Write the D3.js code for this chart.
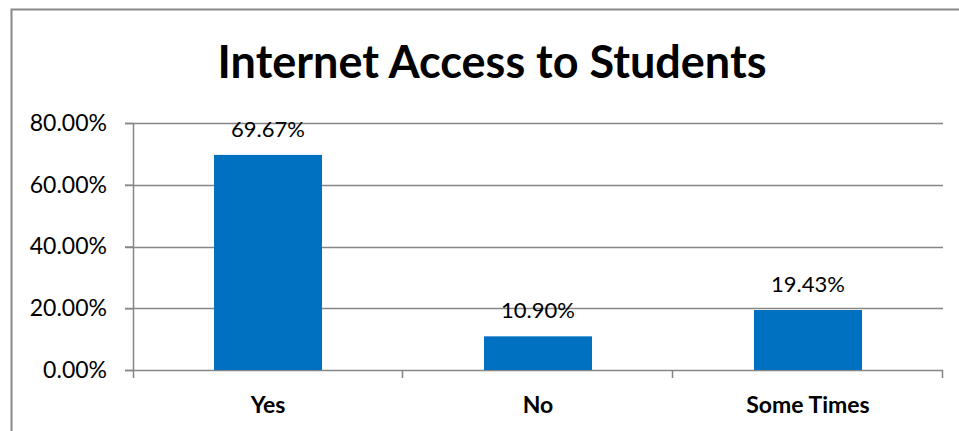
<!DOCTYPE html>
<html>
<head>
<meta charset="utf-8">
<script src="https://cdn.jsdelivr.net/npm/d3@7"></script>
<style>
  body { margin: 0; background: #fff; }
  svg { display: block; }
  text { font-family: Lato, "Open Sans", sans-serif; fill: #000; }
</style>
</head>
<body>
<svg id="chart" width="959" height="431"></svg>
<script>
var categories = ['Yes', 'No', 'Some Times'];
var values = [69.67, 10.90, 19.43];
var yTicks = [0, 20, 40, 60, 80];
var chartTitle = 'Internet Access to Students';

var margin = {top: 123, right: 16, bottom: 61, left: 133},
    width = 959 - margin.left - margin.right,
    height = 431 - margin.top - margin.bottom;

var svg = d3.select('#chart');

// outer chart border
svg.append('rect')
    .attr('x', 11.5)
    .attr('y', 9.5)
    .attr('width', 1000)
    .attr('height', 1000)
    .attr('fill', 'none')
    .attr('stroke', '#898989')
    .attr('stroke-width', 2);

svg.append('text')
    .attr('x', 492)
    .attr('y', 78)
    .attr('text-anchor', 'middle')
    .attr('font-size', '45px')
    .attr('font-weight', 'bold')
    .text(chartTitle);

var g = svg.append('g')
    .attr('transform', 'translate(' + margin.left + ',' + margin.top + ')');

var xScale = d3.scaleBand()
    .domain(categories)
    .range([0, width])
    .paddingInner(0.6)
    .paddingOuter(0.3);

var yScale = d3.scaleLinear()
    .domain([0, 80])
    .range([height, 0]);

// gridlines
g.selectAll('.grid')
    .data(yTicks)
    .join('line')
    .attr('class', 'grid')
    .attr('x1', -8)
    .attr('x2', width)
    .attr('y1', d => Math.round(yScale(d)) + 0.5)
    .attr('y2', d => Math.round(yScale(d)) + 0.5)
    .attr('stroke', '#868686')
    .attr('stroke-width', 1.5);

// y axis
var yAxis = d3.axisLeft(yScale)
    .tickValues(yTicks)
    .tickSize(8)
    .tickPadding(18)
    .tickFormat(d => d.toFixed(2) + '%');

var yg = g.append('g').call(yAxis);
yg.select('.domain').attr('stroke', '#868686').attr('stroke-width', 1.5).attr('d', 'M0.5,0V' + (height + 8));
yg.selectAll('.tick line').attr('stroke', '#868686').attr('stroke-width', 1.5);
yg.selectAll('.tick text')
    .attr('font-size', '23px')
    .attr('font-family', 'Lato, sans-serif')
    .attr('fill', '#000');

// x axis ticks (category boundaries)
var step = width / categories.length;
g.selectAll('.xtick')
    .data(d3.range(1, categories.length + 1))
    .join('line')
    .attr('class', 'xtick')
    .attr('x1', d => d * step - 0.5)
    .attr('x2', d => d * step - 0.5)
    .attr('y1', height)
    .attr('y2', height + 8)
    .attr('stroke', '#868686')
    .attr('stroke-width', 1.5);

// bars
g.selectAll('.bar')
    .data(values)
    .join('rect')
    .attr('class', 'bar')
    .attr('x', (d, i) => xScale(categories[i]))
    .attr('y', d => yScale(d))
    .attr('width', xScale.bandwidth())
    .attr('height', d => height - yScale(d))
    .attr('fill', '#0070C0');

// value labels
g.selectAll('.val')
    .data(values)
    .join('text')
    .attr('class', 'val')
    .attr('x', (d, i) => xScale(categories[i]) + xScale.bandwidth() / 2)
    .attr('y', d => yScale(d) - 18)
    .attr('text-anchor', 'middle')
    .attr('font-size', '22px')
    .text(d => d.toFixed(2) + '%');

// category labels
g.selectAll('.cat')
    .data(categories)
    .join('text')
    .attr('class', 'cat')
    .attr('x', d => xScale(d) + xScale.bandwidth() / 2)
    .attr('y', height + 43)
    .attr('text-anchor', 'middle')
    .attr('font-size', '23px')
    .attr('font-weight', 'bold')
    .text(d => d);
</script>
</body>
</html>
